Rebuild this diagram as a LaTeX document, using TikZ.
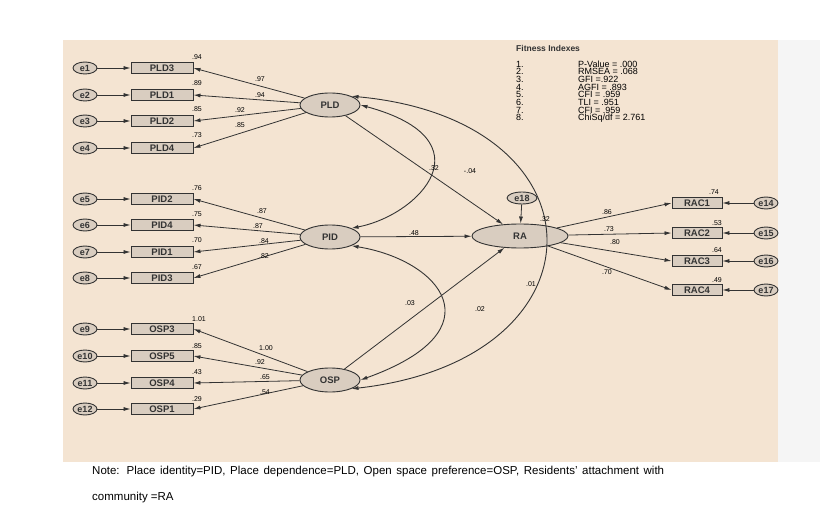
\documentclass[tikz,border=0pt]{standalone}
\usepackage{fontspec}
\setmainfont{Liberation Sans}
\usetikzlibrary{arrows.meta,shapes.geometric}
\definecolor{panel}{HTML}{F4E4D2}
\definecolor{fillc}{HTML}{D9CDC0}
\definecolor{ln}{HTML}{333333}
\begin{document}
\begin{tikzpicture}[x=1pt,y=-1pt,
  ind/.style={draw=ln,fill=fillc,line width=0.9pt,minimum width=62pt,minimum height=11pt,inner sep=0pt,font=\fontsize{9.5}{9.5}\bfseries\selectfont,text=ln},
  rind/.style={ind,minimum width=50pt},
  err/.style={ellipse,draw=ln,fill=fillc,line width=0.9pt,minimum width=24pt,minimum height=12pt,inner sep=0pt,font=\fontsize{9}{9}\bfseries\selectfont,text=ln},
  lat/.style={ellipse,draw=ln,fill=fillc,line width=0.9pt,minimum width=60pt,minimum height=24pt,inner sep=0pt,font=\fontsize{9.5}{9.5}\bfseries\selectfont,text=ln},
  arr/.style={-{Latex[length=7pt,width=4pt]},ln,line width=0.8pt},
  cov/.style={{Latex[length=7pt,width=4pt]}-{Latex[length=7pt,width=4pt]},ln,line width=0.9pt},
  lb/.style={font=\fontsize{7}{7}\selectfont,inner sep=0pt}]
\useasboundingbox (0,0) rectangle (820,516);
\fill[white] (0,0) rectangle (820,516);
\fill[panel] (63,40) rectangle (778,462);
\fill[gray!8] (778,40) rectangle (820,462);
% latents
\node[lat] (PLD) at (330,105) {PLD};
\node[lat] (PID) at (330,237) {PID};
\node[lat] (OSP) at (330,380) {OSP};
\node[lat,minimum width=96pt] (RA) at (520,236) {RA};
\node[err,minimum width=30pt] (e18) at (522,198) {e18};
% indicators
\foreach \n/\e/\y in {PLD3/e1/68,PLD1/e2/95,PLD2/e3/121,PLD4/e4/148,PID2/e5/199,PID4/e6/225,PID1/e7/252,PID3/e8/278,OSP3/e9/329,OSP5/e10/356,OSP4/e11/383,OSP1/e12/409}{
  \node[ind] (\n) at (162,\y) {\n};
  \node[err] (\e) at (85,\y) {\e};
  \draw[arr] (\e) -- (\n);
}
\foreach \n in {PLD3,PLD1,PLD2,PLD4}{\draw[arr] (PLD) -- (\n.east);}
\foreach \n in {PID2,PID4,PID1,PID3}{\draw[arr] (PID) -- (\n.east);}
\foreach \n in {OSP3,OSP5,OSP4,OSP1}{\draw[arr] (OSP) -- (\n.east);}
\foreach \n/\e/\y in {RAC1/e14/203,RAC2/e15/233,RAC3/e16/261,RAC4/e17/290}{
  \node[rind] (\n) at (697,\y) {\n};
  \node[err] (\e) at (766,\y) {\e};
  \draw[arr] (\e) -- (\n);
  \draw[arr] (RA) -- (\n.west);
}
\draw[arr] (e18) -- (RA);
\draw[arr] (PLD) -- (RA);
\draw[arr] (PID) -- (RA);
\draw[arr] (OSP) -- (RA);
% covariances
\draw[cov] (PID.north east) .. controls (420,215) and (490,140) .. (PLD.east);
\draw[cov] (PID.south east) .. controls (440,260) and (500,330) .. (OSP.east);
\draw[cov] (PLD.north east) .. controls (610,120) and (610,360) .. (OSP.south east);
% labels
\foreach \t/\x/\y in {.94/197/57,.89/197/83,.85/197/109,.73/197/135,.97/260/79,.94/260/95,.92/240/110,.85/240/125,
 .76/197/188,.75/197/214,.70/197/240,.67/197/267,.87/262/211,.87/258/226,.84/264/241,.82/264/256,
 1.01/199/319,.85/197/346,.43/197/372,.29/197/399,1.00/266/348,.92/260/362,.65/265/377,.54/265/392,
 .86/607/212,.73/609/229,.80/615/242,.70/607/272,.74/714/192,.53/717/223,.64/717/250,.49/717/280,
 .32/434/168,-.04/470/171,.48/414/233,.03/410/303,.02/480/309,.01/531/284,.32/545/219}{
  \node[lb] at (\x,\y) {\t};}
% fitness
\node[anchor=west,font=\fontsize{8.5}{8.5}\bfseries\selectfont,text=ln,inner sep=0pt] (ft) at (516,48) {Fitness Indexes};
\foreach \i/\t [count=\k from 0] in {1./{P-Value = .000},2./{RMSEA = .068},3./{GFI =.922},4./{AGFI = .893},5./{CFI = .959},6./{TLI = .951},7./{CFI = .959},8./{ChiSq/df = 2.761}}{
  \node[anchor=west,font=\fontsize{9}{9}\selectfont,inner sep=0pt] at (516,64+\k*7.7) {\i};
  \node[anchor=west,font=\fontsize{9}{9}\selectfont,inner sep=0pt] at (578,64+\k*7.7) {\t};}
% note
\node[anchor=north west,inner sep=0pt,font=\fontsize{11.5}{26}\selectfont] (note) at (92,460) {\parbox{572pt}{\rule{0pt}{14pt}Note: Place identity=PID, Place dependence=PLD, Open space preference=OSP, Residents’ attachment with community =RA}};
\end{tikzpicture}
\end{document}
